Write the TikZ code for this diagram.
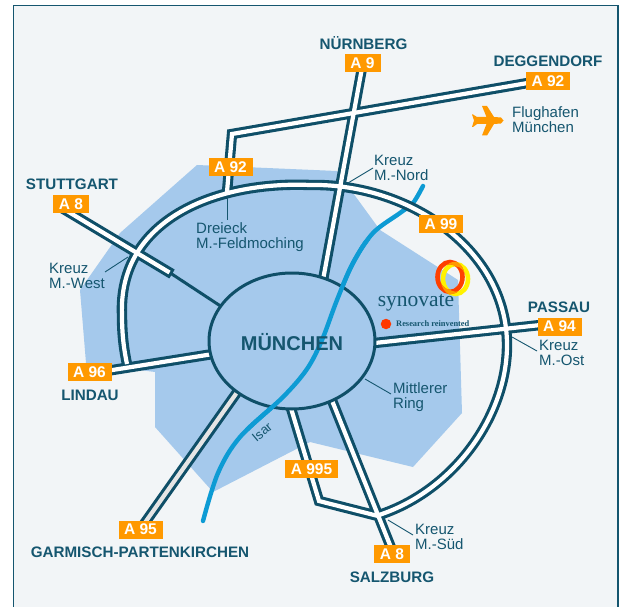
\documentclass[tikz,border=0pt]{standalone}
\usepackage{fontspec}
\setmainfont{Liberation Sans}
\newfontfamily\synfont{Liberation Serif}
\usetikzlibrary{shapes.geometric}
\definecolor{framecol}{HTML}{15566F}
\definecolor{bgcol}{HTML}{F2F5F7}
\definecolor{citycol}{HTML}{A5C9EC}
\definecolor{rivercol}{HTML}{0D9BD4}
\definecolor{shieldcol}{HTML}{FF9900}
\definecolor{roadcol}{HTML}{0F4F68}
\tikzset{
  shield/.style={fill=shieldcol,text=white,font=\fontsize{15.5}{15.5}\selectfont\bfseries,minimum height=18pt,inner sep=0pt,anchor=center},
  shortshield/.style={shield,minimum width=36pt},
  longshield/.style={shield,minimum width=44pt},
  placename/.style={text=framecol,font=\fontsize{15.2}{15.2}\selectfont\bfseries,inner sep=0pt,anchor=center},
  infolabel/.style={text=framecol,font=\fontsize{15}{15}\selectfont,align=left,inner sep=0pt,anchor=west},
  leader/.style={draw=framecol,line width=0.9pt},
  roaddark/.style={draw=roadcol,line width=10.4pt,line join=miter},
  roadwhite/.style={draw=white,line width=4.2pt,line join=miter},
  river/.style={draw=rivercol,line width=4.4pt,line cap=round,line join=round}
}
\begin{document}
\begin{tikzpicture}[x=1pt,y=-1pt]
\useasboundingbox (0,0) rectangle (619,607);
\clip (0,0) rectangle (619,607);
\fill[white] (0,0) rectangle (619,607);
\draw[draw=framecol,line width=1.2pt,fill=bgcol] (13.5,5.5) rectangle (618,620);
% city area
\fill[citycol] (197,165) -- (337,171) -- (380,230) -- (458,280) -- (462,413) -- (413,467)
  -- (310,442) -- (213,492) -- (155,427) -- (155,372) -- (86,363) -- (80,290) -- (120,233) -- cycle;
% river, first under the roads
\def\riverpath{plot[smooth,tension=0.55] coordinates {(423,186) (413,203) (400,213) (373,233) (353,263) (337,300) (322,340) (307,369) (283,397) (240,437) (218,473) (203,521)}}
\draw[river] \riverpath;
% road ends
\coordinate (a9n) at (362,68);
\coordinate (a9s) at (323,280);
\coordinate (e92) at (545,80);
\coordinate (c92) at (232,134);
\coordinate (r92) at (227,192);
\coordinate (a94w) at (370,343.5);
\coordinate (a94e) at (545,324.5);
\coordinate (a96w) at (100,372);
\coordinate (a96e) at (213,354);
\coordinate (a95n) at (238,391);
\coordinate (a95s) at (144,524);
\coordinate (a995n) at (290,405);
\coordinate (a995c) at (319,501);
\coordinate (kreuzs) at (378,516);
\coordinate (a8n) at (331,398);
\coordinate (a8s) at (392,550);
\coordinate (w1) at (62,208);
\coordinate (w2) at (169.5,272.5);
\coordinate (w2d) at (172,274);
\coordinate (w3) at (222,307);
\coordinate (rw) at (127,364);
\coordinate (rl) at (122,315);
\coordinate (rt) at (310,185);
\coordinate (re) at (507,345);
\coordinate (rs) at (379,515);
\def\roadpaths{
  (a9n) -- (a9s)
  (e92) -- (c92) -- (r92)
  (a94w) -- (a94e)
  (a96w) -- (a96e)
  (a995n) -- (a995c) -- (kreuzs)
  (a8n) -- (a8s)
  (rw) .. controls (124,350) and (122,335) .. (rl)
       .. controls (118,220) and (215,181) .. (rt)
       .. controls (410,183) and (507,250) .. (re)
       .. controls (507,415) and (455,490) .. (rs)
}
\draw[draw=roadcol,line width=3pt] (w2) -- (w3);
\draw[roaddark] (w1) -- (w2d);
\draw[roaddark] (a95n) -- (a95s);
\draw[roaddark] \roadpaths;
\draw[roadwhite] (w1) -- (w2);
\draw[draw=white!90!black,line width=4.2pt] (a95n) -- (a95s);
\draw[roadwhite] \roadpaths;
% city ring
\node[ellipse,draw=roadcol,fill=citycol,line width=3pt,minimum width=166pt,minimum height=136pt,inner sep=0pt] (city) at (292,341) {};
\begin{scope}
\clip (245,240) rectangle (400,430);
\draw[river] \riverpath;
\end{scope}
\node[text=framecol,font=\fontsize{20}{20}\selectfont\bfseries,inner sep=0pt] (citylabel) at (292,342) {MÜNCHEN};
% logo
\draw[draw=yellow,line width=4.6pt] (455.5,279) ellipse (12.5pt and 15pt);
\draw[draw=red!75!yellow,line width=4.6pt] (450,277) ellipse (12.5pt and 15pt);
\begin{scope}[even odd rule]
\clip (455.5,279) ellipse (14.8pt and 17.3pt) (455.5,279) ellipse (10.2pt and 12.7pt);
\draw[draw=shieldcol,line width=4.6pt] (450,277) ellipse (12.5pt and 15pt);
\end{scope}
\node[text=framecol,font=\synfont\fontsize{21.5}{21.5}\selectfont,inner sep=0pt] (syn) at (416,303) {synovate};
\node[circle,fill=red!78!yellow,minimum size=10.5pt,inner sep=0pt] (dot) at (386,324) {};
\node[text=framecol,font=\synfont\fontsize{8.4}{8.4}\selectfont\bfseries,inner sep=0pt,anchor=west] (claim) at (396,323.5) {Research reinvented};
% plane
\fill[shieldcol] (503.5,120.5) -- (501,117.5) -- (494,117) -- (487,106) -- (482,106) -- (486.5,117) -- (477,117) -- (473,114.5) -- (472,114.5) -- (474,120.5) -- (472,127) -- (473,127) -- (477,124) -- (486.5,124) -- (482,135.5) -- (487,135.5) -- (494,124) -- (501,123.5) -- cycle;
\node[infolabel] (airport) at (512,120) {Flughafen\\München};
% shields
\node[longshield] (s92w) at (230.5,166.7) {A 92};
\node[shortshield] (s8w) at (71,204) {A 8};
\node[shortshield] (s9) at (362.5,63) {A 9};
\node[longshield] (s92e) at (548,81) {A 92};
\node[longshield] (s99) at (441,224) {A 99};
\node[longshield] (s94) at (559.5,326.5) {A 94};
\node[longshield] (s96) at (89.5,371.7) {A 96};
\node[longshield] (s95) at (140.5,529.5) {A 95};
\node[shield,minimum width=53pt] (s995) at (311.5,469) {A 995};
\node[shortshield] (s8s) at (392,554) {A 8};
% places
\node[placename] (stuttgart) at (72,184) {STUTTGART};
\node[placename] (nuernberg) at (363.5,43) {NÜRNBERG};
\node[placename] (deggendorf) at (548,61) {DEGGENDORF};
\node[placename] (passau) at (559,307) {PASSAU};
\node[placename] (lindau) at (90,395) {LINDAU};
\node[placename] (garmisch) at (140,552) {GARMISCH-PARTENKIRCHEN};
\node[placename] (salzburg) at (392,577) {SALZBURG};
% info labels
\node[infolabel] (ldreieck) at (196,237.5) {Dreieck\\M.-Feldmoching};
\node[infolabel] (lwest) at (49,275.5) {Kreuz\\M.-West};
\node[infolabel] (lnord) at (374,167.5) {Kreuz\\M.-Nord};
\node[infolabel] (lost) at (539,352.5) {Kreuz\\M.-Ost};
\node[infolabel] (lring) at (393,397) {Mittlerer\\Ring};
\node[infolabel] (lsued) at (415,537) {Kreuz\\M.-Süd};
\node[text=framecol,font=\fontsize{13}{13}\selectfont,rotate=40,inner sep=0pt] (lisar) at (262,432) {Isar};
% leaders
\coordinate (kd) at (227,197);
\coordinate (kw) at (128,257);
\coordinate (kn) at (348,183);
\coordinate (ko) at (512,337);
\coordinate (kr) at (365,379);
\coordinate (ks) at (388,520);
\draw[leader] (kd) -- (227,220);
\draw[leader] (kw) -- (105,272);
\draw[leader] (kn) -- (373,168);
\draw[leader] (ko) -- (537,351);
\draw[leader] (kr) -- (391,394);
\draw[leader] (ks) -- (413,535);
\end{tikzpicture}
\end{document}
